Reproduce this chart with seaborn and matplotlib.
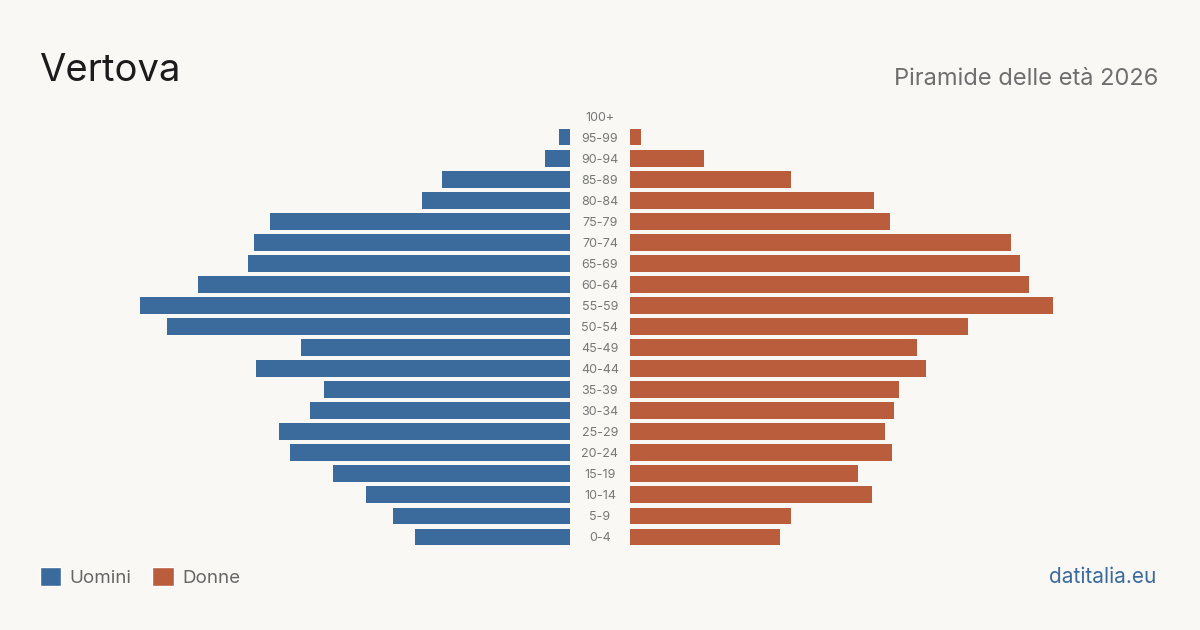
import matplotlib
matplotlib.use("Agg")
import matplotlib.pyplot as plt
import matplotlib.transforms as mtransforms
from matplotlib.patches import Patch
import seaborn as sns
import pandas as pd

# Age classes, top to bottom
age_groups = ['100+', '95-99', '90-94', '85-89', '80-84', '75-79', '70-74', '65-69',
              '60-64', '55-59', '50-54', '45-49', '40-44', '35-39', '30-34', '25-29',
              '20-24', '15-19', '10-14', '5-9', '0-4']
# Values (relative bar lengths)
men = [0, 11, 25, 128, 148, 300, 316, 322, 372, 430, 403, 269, 314, 246, 260, 291,
       280, 237, 204, 177, 155]
women = [0, 11, 74, 161, 244, 260, 381, 390, 399, 423, 338, 287, 296, 269, 264, 255,
         262, 228, 242, 161, 150]

blue = '#3b6b9c'
orange = '#b95d3c'
bg = '#f9f8f4'

df = pd.DataFrame({'age': age_groups, 'men': men, 'women': women})

sns.set_theme(style='white')
plt.rcParams['font.family'] = ['Inter', 'DejaVu Sans']

fig = plt.figure(figsize=(12, 6.3), dpi=100, facecolor=bg)

W, H = 1200, 630
y_bot = (H - 547.5) / H
y_top = (H - 105.5) / H
xmax = 450

ax_m = fig.add_axes([(570 - xmax) / W, y_bot, xmax / W, y_top - y_bot])
ax_f = fig.add_axes([630 / W, y_bot, xmax / W, y_top - y_bot])

sns.barplot(data=df, y='age', x='men', order=age_groups, color=blue, width=0.8,
            saturation=1, linewidth=0, ax=ax_m)
sns.barplot(data=df, y='age', x='women', order=age_groups, color=orange, width=0.8,
            saturation=1, linewidth=0, ax=ax_f)

ax_m.set_xlim(xmax, 0)
ax_f.set_xlim(0, xmax)
for ax in (ax_m, ax_f):
    ax.set_facecolor('none')
    ax.set_ylim(len(age_groups) - 0.5, -0.5)
    ax.set_xlabel('')
    ax.set_ylabel('')
    ax.set_xticks([])
    ax.set_yticks([])
    for s in ax.spines.values():
        s.set_visible(False)

# Age labels in the gap
tr = mtransforms.blended_transform_factory(fig.transFigure, ax_f.transData)
for i, lab in enumerate(age_groups):
    ax_f.text(0.5, i, lab, transform=tr, ha='center', va='center_baseline',
              fontsize=9, color='#777777', clip_on=False)

fig.text(39 / W, 1 - 81 / H, 'Vertova', fontsize=27.5, color='#1c1c1c',
         ha='left', va='baseline')
fig.text(1158 / W, 1 - 85 / H, 'Piramide delle età 2026', fontsize=17, color='#6e6e6e',
         ha='right', va='baseline')
fig.text(1156 / W, 1 - 583 / H, 'datitalia.eu', fontsize=15, color=blue,
         ha='right', va='baseline')

handles = [Patch(facecolor=blue, label='Uomini'), Patch(facecolor=orange, label='Donne')]
leg = fig.legend(handles=handles, loc='center left', bbox_to_anchor=(32 / W, 1 - 577 / H),
                 ncol=2, frameon=False, fontsize=13.5, handlelength=1.15, handleheight=1.15,
                 handletextpad=0.45, columnspacing=1.1, borderaxespad=0)
for t in leg.get_texts():
    t.set_color('#666666')

fig.savefig('out.png', dpi=100, facecolor=bg)
